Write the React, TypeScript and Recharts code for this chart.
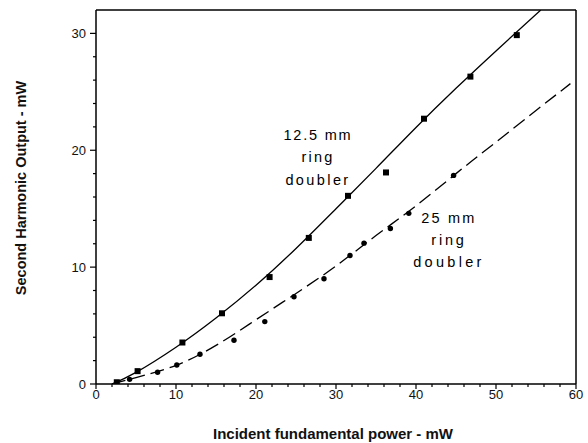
import React from 'react';
import {
  ComposedChart,
  Line,
  Scatter,
  XAxis,
  YAxis,
  ReferenceLine,
  Customized,
} from 'recharts';

// measured points, 12.5 mm ring doubler (squares)
const squareX = [2.6, 5.2, 10.8, 15.75, 21.7, 26.6, 31.5, 36.25, 41, 46.8, 52.6];
const squareY = [0.15, 1.1, 3.55, 6.05, 9.15, 12.5, 16.1, 18.1, 22.7, 26.3, 29.85];

// measured points, 25 mm ring doubler (dots)
const dotX = [4.2, 7.7, 10.1, 13, 17.25, 21.1, 24.75, 28.5, 31.75, 33.5, 36.8, 39.1, 44.7];
const dotY = [0.4, 1.0, 1.63, 2.54, 3.74, 5.34, 7.46, 9.0, 11.0, 12.05, 13.3, 14.6, 17.85];

// fitted curves
const fitSolidX = [2, 5, 10, 15, 20, 25, 30, 35, 40, 45, 50, 55.6];
const fitSolidY = [0, 1.0, 3.15, 5.65, 8.45, 11.6, 15.0, 18.45, 21.95, 25.3, 28.5, 32];
const fitDashX = [2, 5, 10, 15, 20, 25, 30, 35, 40, 45, 50, 55, 59.3];
const fitDashY = [0, 0.55, 1.6, 3.3, 5.5, 7.75, 10.1, 12.7, 15.25, 18.0, 20.7, 23.4, 25.7];

const xTicks = [0, 2, 4, 6, 8, 10, 12, 14, 16, 18, 20, 22, 24, 26, 28, 30, 32, 34, 36, 38, 40, 42, 44, 46, 48, 50, 52, 54, 56, 58, 60];
const yTicks = [0, 2, 4, 6, 8, 10, 12, 14, 16, 18, 20, 22, 24, 26, 28, 30];

const zip = (xs: number[], ys: number[]) => xs.map((x, i) => ({ x, y: ys[i] }));

const squares = zip(squareX, squareY);
const dots = zip(dotX, dotY);
const fitSolid = zip(fitSolidX, fitSolidY);
const fitDash = zip(fitDashX, fitDashY);

const FONT = '"Liberation Sans", Arial, Helvetica, sans-serif';

const XTick = (props: any) => {
  const { x, y, payload } = props;
  const major = payload.value % 10 === 0;
  return (
    <g>
      <line x1={x} y1={y} x2={x} y2={y + (major ? 5 : 3)} stroke="#000" strokeWidth={1.2} />
      {major && (
        <text x={x} y={y + 15} textAnchor="middle" fontSize={13} fontFamily={FONT} fill="#111">
          {payload.value}
        </text>
      )}
    </g>
  );
};

const YTick = (props: any) => {
  const { x, y, payload } = props;
  const major = payload.value % 10 === 0;
  return (
    <g>
      <line x1={x - (major ? 6 : 3)} y1={y} x2={x} y2={y} stroke="#000" strokeWidth={1.2} />
      {major && (
        <text x={x - 10} y={y + 4.5} textAnchor="end" fontSize={13} fontFamily={FONT} fill="#111">
          {payload.value}
        </text>
      )}
    </g>
  );
};

const SquareMark = (props: any) => {
  const { cx, cy } = props;
  return <rect x={cx - 3} y={cy - 3} width={6} height={6} fill="#000" />;
};

const DotMark = (props: any) => {
  const { cx, cy } = props;
  return <circle cx={cx} cy={cy} r={2.7} fill="#000" />;
};

const annoStyle = { fontSize: 14.5, fontFamily: FONT, fill: '#000' };

const Annotations = () => (
  <g>
    <text x={318} y={140} textAnchor="middle" letterSpacing={1.8} style={annoStyle}>12.5 mm</text>
    <text x={318} y={162} textAnchor="middle" letterSpacing={2.2} style={annoStyle}>ring</text>
    <text x={318} y={185} textAnchor="middle" letterSpacing={2.4} style={annoStyle}>doubler</text>
    <text x={449} y={223} textAnchor="middle" letterSpacing={2.2} style={annoStyle}>25 mm</text>
    <text x={449} y={245} textAnchor="middle" letterSpacing={2.8} style={annoStyle}>ring</text>
    <text x={449} y={267} textAnchor="middle" letterSpacing={3.3} style={annoStyle}>doubler</text>
  </g>
);

const App: React.FC = () => {
  return (
    <div style={{ position: 'absolute', left: 0, top: 0, background: '#fff' }}>
      <ComposedChart width={588} height={443} margin={{ top: 10, right: 12, bottom: 0, left: 0 }}>
        <XAxis
          dataKey="x"
          type="number"
          domain={[0, 60]}
          ticks={xTicks}
          interval={0}
          height={59}
          tickSize={0}
          tickMargin={0}
          tickLine={false}
          tick={<XTick />}
          axisLine={{ stroke: '#000', strokeWidth: 1.5 }}
          allowDataOverflow
          label={{
            content: () => (
              <text x={333} y={439} textAnchor="middle" fontSize={15} fontWeight="bold" fontFamily={FONT} fill="#111">
                Incident fundamental power - mW
              </text>
            ),
          }}
        />
        <YAxis
          dataKey="y"
          type="number"
          domain={[0, 32]}
          ticks={yTicks}
          interval={0}
          width={96}
          tickSize={0}
          tickMargin={0}
          tickLine={false}
          tick={<YTick />}
          axisLine={{ stroke: '#000', strokeWidth: 1.5 }}
          allowDataOverflow
          label={{
            content: () => (
              <text
                x={26}
                y={188}
                transform="rotate(-90 26 188)"
                textAnchor="middle"
                fontSize={14.5}
                fontWeight="bold"
                fontFamily={FONT}
                fill="#111"
              >
                Second Harmonic Output - mW
              </text>
            ),
          }}
        />
        <ReferenceLine y={32} stroke="#000" strokeWidth={1.5} />
        <ReferenceLine x={60} stroke="#000" strokeWidth={1.5} />
        <Line
          data={fitSolid}
          dataKey="y"
          type="natural"
          stroke="#000"
          strokeWidth={1.3}
          dot={false}
          activeDot={false}
          isAnimationActive={false}
        />
        <Line
          data={fitDash}
          dataKey="y"
          type="natural"
          stroke="#000"
          strokeWidth={1.3}
          strokeDasharray="14 6"
          dot={false}
          activeDot={false}
          isAnimationActive={false}
        />
        <Scatter data={squares} dataKey="y" shape={<SquareMark />} isAnimationActive={false} />
        <Scatter data={dots} dataKey="y" shape={<DotMark />} isAnimationActive={false} />
        <Customized component={Annotations} />
      </ComposedChart>
    </div>
  );
};

export default App;
